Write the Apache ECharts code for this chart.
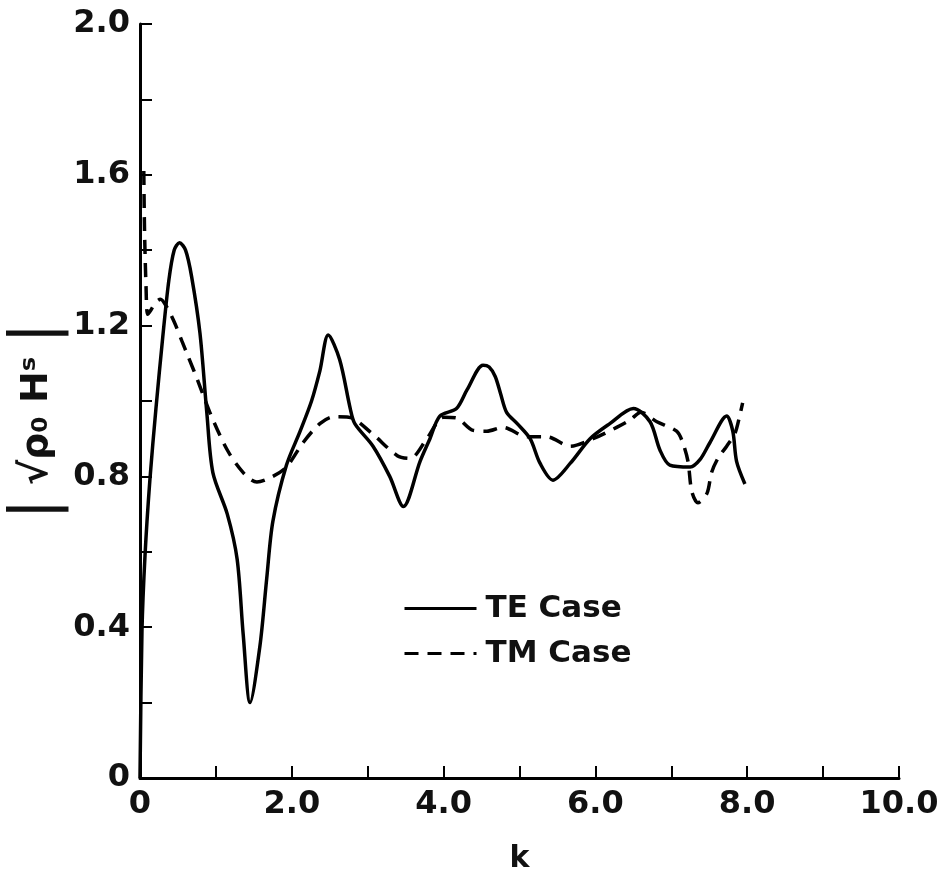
<!DOCTYPE html>
<html><head><meta charset="utf-8">
<script src="https://cdn.jsdelivr.net/npm/echarts@6/dist/echarts.min.js"></script>
<style>html,body{margin:0;padding:0;background:#fff}#c{width:947px;height:877px}</style>
</head><body><div id="c"></div>
<script>
var teK = [0, 0.026, 0.066, 0.13, 0.21, 0.30, 0.38, 0.45, 0.52, 0.60, 0.68, 0.79, 0.88, 0.96, 1.15, 1.28, 1.36, 1.45, 1.58, 1.67, 1.75, 1.93, 2.11, 2.26, 2.37, 2.48, 2.63, 2.77, 2.83, 3.07, 3.29, 3.47, 3.69, 3.82, 3.95, 4.17, 4.31, 4.52, 4.60, 4.68, 4.75, 4.83, 4.97, 5.14, 5.27, 5.44, 5.67, 5.93, 6.19, 6.50, 6.72, 6.85, 6.98, 7.25, 7.38, 7.51, 7.73, 7.81, 7.86, 7.97];
var teVal = [0, 0.39, 0.59, 0.79, 0.98, 1.17, 1.32, 1.40, 1.42, 1.40, 1.33, 1.18, 0.97, 0.81, 0.70, 0.58, 0.38, 0.20, 0.35, 0.53, 0.68, 0.83, 0.92, 1.00, 1.08, 1.175, 1.11, 0.98, 0.94, 0.88, 0.80, 0.72, 0.84, 0.90, 0.96, 0.98, 1.03, 1.095, 1.09, 1.065, 1.02, 0.97, 0.94, 0.90, 0.835, 0.79, 0.835, 0.90, 0.94, 0.98, 0.945, 0.87, 0.83, 0.825, 0.845, 0.89, 0.96, 0.92, 0.84, 0.78];
var tmK = [0.05, 0.06, 0.08, 0.10, 0.14, 0.20, 0.27, 0.35, 0.45, 0.55, 0.64, 0.75, 0.92, 1.15, 1.36, 1.54, 1.75, 1.93, 2.15, 2.37, 2.55, 2.75, 3.05, 3.39, 3.56, 3.78, 4.00, 4.17, 4.39, 4.57, 4.78, 5.10, 5.36, 5.67, 5.97, 6.28, 6.46, 6.60, 6.81, 7.07, 7.15, 7.22, 7.27, 7.35, 7.47, 7.53, 7.62, 7.73, 7.84, 7.90, 7.94];
var tmVal = [1.61, 1.45, 1.30, 1.23, 1.24, 1.26, 1.27, 1.25, 1.21, 1.16, 1.115, 1.06, 0.97, 0.87, 0.81, 0.785, 0.80, 0.825, 0.89, 0.94, 0.958, 0.957, 0.915, 0.855, 0.848, 0.90, 0.957, 0.955, 0.922, 0.92, 0.93, 0.905, 0.905, 0.88, 0.90, 0.93, 0.95, 0.97, 0.945, 0.92, 0.89, 0.84, 0.76, 0.73, 0.755, 0.81, 0.85, 0.88, 0.915, 0.96, 0.995];
var seriesNames = ['TE Case', 'TM Case'];
var xTickLabels = {0: '0', 2: '2.0', 4: '4.0', 6: '6.0', 8: '8.0', 10: '10.0'};
var yTickLabels = {'0': '0', '0.4': '0.4', '0.8': '0.8', '1.2': '1.2', '1.6': '1.6', '2': '2.0'};

function pairs(a, b) { return a.map(function (k, i) { return [k, b[i]]; }); }
var FONT = 'DejaVu Sans';
var chart = echarts.init(document.getElementById('c'), null, {renderer: 'canvas'});
chart.setOption({
  animation: false,
  backgroundColor: '#fff',
  grid: {left: 140, right: 48, top: 24, bottom: 99, containLabel: false, outerBoundsMode: 'none'},
  legend: {
    orient: 'vertical', left: 398, top: 588, itemWidth: 72, itemHeight: 14, itemGap: 14,
    itemStyle: {opacity: 0},
    lineStyle: {width: 3},
    textStyle: {fontFamily: FONT, fontSize: 31, fontWeight: 'bold', color: '#111', padding: [0, 0, 0, 4]},
    data: seriesNames
  },
  xAxis: {
    type: 'value', min: 0, max: 10, interval: 1,
    name: 'k', nameLocation: 'middle', nameGap: 66, nameMoveOverlap: false,
    nameTextStyle: {fontFamily: FONT, fontSize: 30, fontWeight: 'bold', color: '#111'},
    axisLine: {lineStyle: {color: '#000', width: 3}},
    axisTick: {inside: true, length: 12, lineStyle: {color: '#000', width: 2}},
    axisLabel: {
      margin: 11, fontFamily: FONT, fontSize: 32, fontWeight: 'bold', color: '#111', showMaxLabel: true,
      formatter: function (v) { return xTickLabels[v] !== undefined ? xTickLabels[v] : ''; }
    },
    splitLine: {show: false}
  },
  yAxis: {
    type: 'value', min: 0, max: 2, interval: 0.2,
    name: '{bar||} √ρ₀ Hˢ {bar||}', nameLocation: 'middle', nameGap: 72, nameRotate: 90, nameMoveOverlap: false,
    nameTextStyle: {
      fontFamily: FONT, fontSize: 38, fontWeight: 'bold', color: '#111', padding: [0, 40, 0, 0],
      rich: {bar: {fontFamily: FONT, fontSize: 62, fontWeight: 'normal', color: '#111'}}
    },
    axisLine: {lineStyle: {color: '#000', width: 3}},
    axisTick: {inside: true, length: 12, lineStyle: {color: '#000', width: 2}},
    axisLabel: {
      margin: 10, fontFamily: FONT, fontSize: 32, fontWeight: 'bold', color: '#111', showMaxLabel: true,
      formatter: function (v) { var key = String(Math.round(v * 10) / 10); return yTickLabels[key] !== undefined ? yTickLabels[key] : ''; }
    },
    splitLine: {show: false}
  },
  series: [
    {
      name: seriesNames[0], type: 'line', data: pairs(teK, teVal), symbol: 'none', smooth: 0.3,
      lineStyle: {color: '#000', width: 3.5}, itemStyle: {color: '#000'}
    },
    {
      name: seriesNames[1], type: 'line', data: pairs(tmK, tmVal), symbol: 'none', smooth: 0.3,
      lineStyle: {color: '#000', width: 3.5, type: [14, 9]}, itemStyle: {color: '#000'}
    }
  ]
});
</script></body></html>
